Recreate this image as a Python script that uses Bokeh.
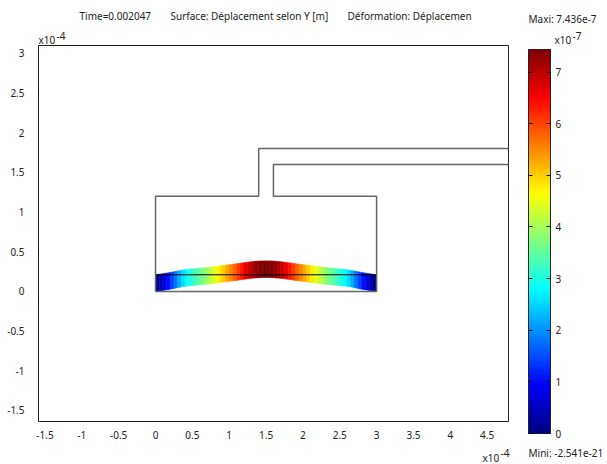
from bokeh.plotting import figure
from bokeh.layouts import row, column
from bokeh.models import LinearColorMapper, FixedTicker, LinearAxis, Label, Range1d, ColumnDataSource
from bokeh.embed import file_html
from bokeh.resources import INLINE
import numpy as np

FONT = "Noto Sans"

# Title and annotation text
title_time = "Time=0.002047"
title_surface = "Surface: Déplacement selon Y [m]"
title_deform = "Déformation: Déplacemen"
max_text = "Maxi: 7.436e-7"
min_text = "Mini: -2.541e-21"

# Axis ticks (units of 1e-4 m)
x_ticks = [-1.5, -1, -0.5, 0, 0.5, 1, 1.5, 2, 2.5, 3, 3.5, 4, 4.5]
y_ticks = [-1.5, -1, -0.5, 0, 0.5, 1, 1.5, 2, 2.5, 3]
cb_ticks = [0, 1, 2, 3, 4, 5, 6, 7]

# Geometry outline (units of 1e-4 m)
outline_x = [4.8, 1.4, 1.4, 0, 0, 3, 3, 1.6, 1.6, 4.8]
outline_y = [1.8, 1.8, 1.2, 1.2, 0, 0, 1.2, 1.2, 1.6, 1.6]
membrane_x = [0, 3]
membrane_y = [0.21, 0.21]

# Membrane stations and displacement along it (units of 1e-7 m)
station_x = [0, .05, .1, .15, .2, .25, .3, .35, .4, .45, .5, .55, .6, .65, .7, .75, .8, .85, .9, .95,
             1, 1.05, 1.1, 1.15, 1.2, 1.25, 1.3, 1.35, 1.4, 1.45, 1.5,
             1.55, 1.6, 1.65, 1.7, 1.75, 1.8, 1.85, 1.9, 1.95, 2, 2.05, 2.1, 2.15, 2.2, 2.25, 2.3, 2.35,
             2.4, 2.45, 2.5, 2.55, 2.6, 2.65, 2.7, 2.75, 2.8, 2.85, 2.9, 2.95, 3]
displacement = [0, .25, .55, .85, 1.2, 1.6, 2.0, 2.4, 2.7, 2.9, 3.1, 3.3, 3.5, 3.7, 3.9, 4.15, 4.4, 4.65, 4.9, 5.15,
                5.4, 5.65, 5.9, 6.2, 6.5, 6.75, 7.0, 7.2, 7.35, 7.42, 7.44,
                7.42, 7.35, 7.2, 7.0, 6.75, 6.5, 6.2, 5.9, 5.65, 5.4, 5.15, 4.9, 4.65, 4.4, 4.15, 3.9, 3.7,
                3.5, 3.3, 3.1, 2.9, 2.7, 2.4, 2.0, 1.6, 1.2, .85, .55, .25, 0]
thickness = 0.21        # undeformed membrane height
deform_scale = 0.0235   # drawn deformation per displacement unit

v_min, v_max = 0.0, 7.436


def jet(n):
    out = []
    for t in np.linspace(0, 1, n):
        r = np.clip(min(4 * t - 1.5, -4 * t + 4.5), 0, 1)
        g = np.clip(min(4 * t - 0.5, -4 * t + 3.5), 0, 1)
        b = np.clip(min(4 * t + 0.5, -4 * t + 2.5), 0, 1)
        out.append("#%02x%02x%02x" % (int(r * 255), int(g * 255), int(b * 255)))
    return out


palette = jet(256)
mapper = LinearColorMapper(palette=palette, low=v_min, high=v_max)


def strip(height, y_top):
    """A text-only band; its ranges are page pixels, so labels can sit anywhere in it."""
    s = figure(width=607, height=height, output_backend="svg", toolbar_location=None,
               x_range=Range1d(0, 607), y_range=Range1d(y_top + height, y_top),
               min_border_left=0, min_border_right=0, min_border_top=0, min_border_bottom=0)
    s.axis.visible = False
    s.grid.visible = False
    s.outline_line_color = None
    return s


def lab(fig, x, y, text, size="10px"):
    fig.add_layout(Label(x=x, y=y, text=text, text_font=FONT, text_font_size=size, text_color="#222222",
                         text_baseline="middle", text_align="left"))


# Main plot: page frame 38..508 x 45..421
p = figure(width=518, height=396, output_backend="svg", toolbar_location=None,
           x_range=Range1d(-1.588, 4.79), y_range=Range1d(-1.64, 3.10),
           min_border_left=38, min_border_right=10, min_border_top=0, min_border_bottom=20)
p.grid.visible = False
p.outline_line_color = "#222222"
p.outline_line_width = 1
for ax, ticks in ((p.xaxis[0], x_ticks), (p.yaxis[0], y_ticks)):
    ax.ticker = FixedTicker(ticks=ticks)
    ax.major_label_overrides = {t: f"{t:g}" for t in ticks}
    ax.axis_line_color = None
    ax.major_tick_line_color = None
    ax.minor_tick_line_color = None
    ax.major_label_text_font = FONT
    ax.major_label_text_font_size = "10px"
    ax.major_label_text_color = "#222222"
p.xaxis[0].major_label_standoff = 3
p.yaxis[0].major_label_standoff = 8

d = np.array(displacement)
sx = np.array(station_x)
low = d * deform_scale
up = thickness + d * deform_scale
xs, ys, cv = [], [], []
for i in range(len(sx) - 1):
    xs.append([sx[i], sx[i + 1], sx[i + 1], sx[i]])
    ys.append([low[i], low[i + 1], up[i + 1], up[i]])
    cv.append((d[i] + d[i + 1]) / 2)
src = ColumnDataSource(dict(xs=xs, ys=ys, v=cv))
p.patches("xs", "ys", source=src, fill_color={"field": "v", "transform": mapper},
          line_color={"field": "v", "transform": mapper}, line_width=0.6)
p.line(membrane_x, membrane_y, line_color="black", line_width=1.2)
p.line(outline_x, outline_y, line_color="#666666", line_width=1.5)

# Colour scale: page frame 528..550 x 49..433
c = figure(width=89, height=396, output_backend="svg", toolbar_location=None,
           x_range=Range1d(0, 1), y_range=Range1d(v_min, v_max),
           min_border_left=10, min_border_right=57, min_border_top=4, min_border_bottom=8)
c.grid.visible = False
c.outline_line_color = "#222222"
c.xaxis.visible = False
gradient = np.linspace(v_min, v_max, 256).reshape(-1, 1)
c.image(image=[gradient], x=0, y=v_min, dw=1, dh=v_max - v_min, color_mapper=mapper)
la = c.yaxis[0]
la.ticker = FixedTicker(ticks=cb_ticks)
la.major_label_overrides = {t: "" for t in cb_ticks}
la.major_tick_in = 4
la.major_tick_out = 0
la.minor_tick_line_color = None
la.major_tick_line_color = "#111111"
la.axis_line_color = "#222222"
ra = LinearAxis(ticker=FixedTicker(ticks=cb_ticks))
ra.major_tick_in = 4
ra.major_tick_out = 0
ra.minor_tick_line_color = None
ra.major_tick_line_color = "#111111"
ra.axis_line_color = "#222222"
ra.major_label_standoff = 5
ra.major_label_text_font = FONT
ra.major_label_text_font_size = "10px"
ra.major_label_text_color = "#222222"
c.add_layout(ra, "right")

top = strip(45, 0)
lab(top, 79, 15.5, title_time)
lab(top, 170, 15.5, title_surface)
lab(top, 347, 15.5, title_deform)
lab(top, 38, 39, "x10")
lab(top, 56, 35, "-4")
lab(top, 528, 18, max_text)
lab(top, 554, 39, "x10")
lab(top, 572, 35, "-7")

bottom = strip(23, 441)
lab(bottom, 482, 457, "x10")
lab(bottom, 500, 452, "-4")
lab(bottom, 528, 452, min_text)

layout = column(top, row(p, column(c, spacing=0), spacing=0), bottom, spacing=0)
open("out.html", "w").write(file_html(layout, INLINE))
